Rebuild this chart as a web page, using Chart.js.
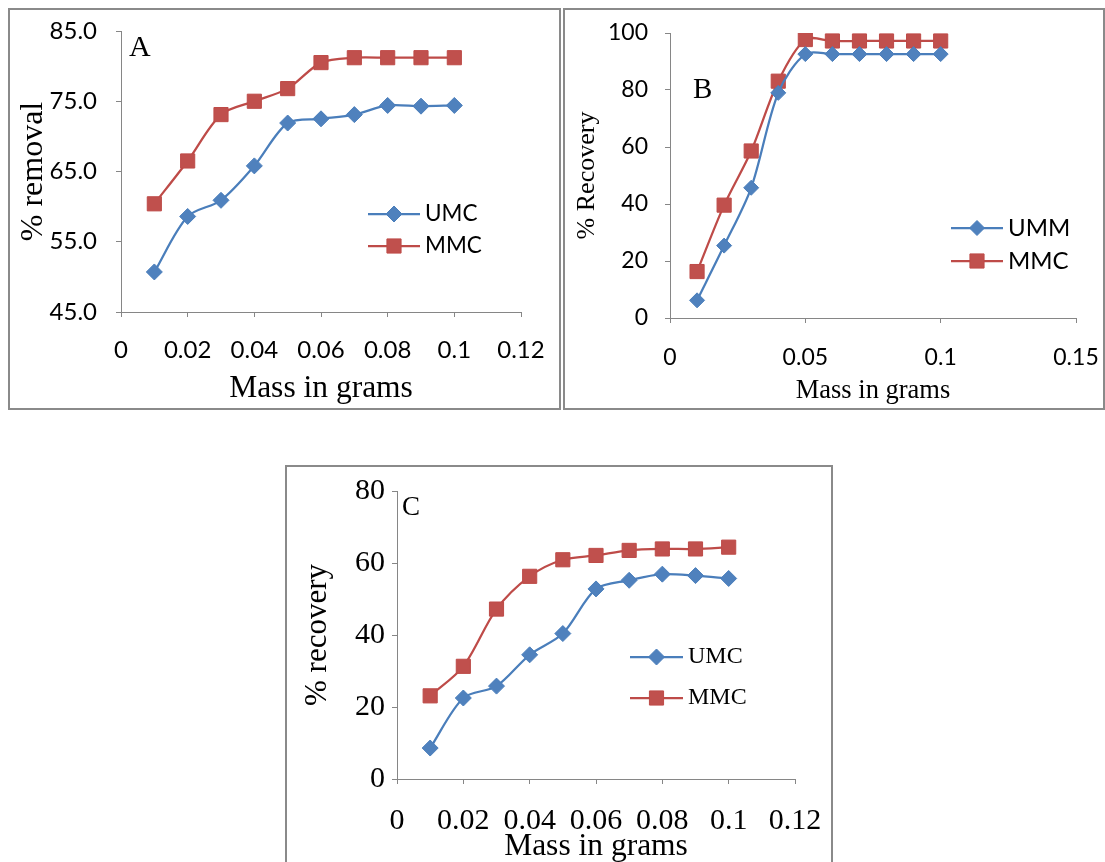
<!DOCTYPE html>
<html>
<head>
<meta charset="utf-8">
<script src="https://cdn.jsdelivr.net/npm/chart.js@4.4.1/dist/chart.umd.min.js"></script>
<style>
  body { margin: 0; background: #fff; width: 1105px; height: 862px; overflow: hidden; position: relative; }
  .frame { position: absolute; border: 2px solid #8a8a8a; box-sizing: border-box; background: #fff; }
  .frame canvas { position: absolute; left: 0; top: 0; }
</style>
</head>
<body>
<div class="frame" style="left:8px;top:8px;width:553px;height:402px"><canvas id="chartA" width="549" height="398"></canvas></div>
<div class="frame" style="left:563px;top:8px;width:542px;height:402px"><canvas id="chartB" width="538" height="398"></canvas></div>
<div class="frame" style="left:285px;top:465px;width:548px;height:402px"><canvas id="chartC" width="544" height="395"></canvas></div>
<script>
// ===============================
// Data
// ===============================
const massGrams = [0.01, 0.02, 0.03, 0.04, 0.05, 0.06, 0.07, 0.08, 0.09, 0.1];

// A - % removal
const umcRemovalA = [50.7, 58.6, 60.9, 65.8, 71.9, 72.5, 73.1, 74.4, 74.3, 74.4];
const mmcRemovalA = [60.4, 66.5, 73.1, 75.0, 76.8, 80.5, 81.2, 81.2, 81.2, 81.2];

// B - % Recovery
const ummRecoveryB = [6.2, 25.4, 45.7, 79.0, 92.6, 92.6, 92.6, 92.6, 92.6, 92.6];
const mmcRecoveryB = [16.3, 39.6, 58.6, 83.1, 97.7, 97.2, 97.2, 97.2, 97.2, 97.2];

// C - % recovery
const umcRecoveryC = [8.6, 22.5, 25.8, 34.5, 40.4, 52.8, 55.2, 56.9, 56.5, 55.7];
const mmcRecoveryC = [23.1, 31.3, 47.2, 56.3, 60.9, 62.1, 63.5, 63.9, 63.9, 64.4];

// Tick values
const xTicksAC = [0, 0.02, 0.04, 0.06, 0.08, 0.1, 0.12];
const xTicksB = [0, 0.05, 0.1, 0.15];
const yTicksA = [45, 55, 65, 75, 85];
const yTicksB = [0, 20, 40, 60, 80, 100];
const yTicksC = [0, 20, 40, 60, 80];

// ===============================
// Styles
// ===============================
const BLUE_LINE = "#4A7EBB";
const BLUE_FILL = "#4F81BD";
const RED_LINE = "#BE4B48";
const RED_FILL = "#C0504D";
const AXIS_GRAY = "#868686";
const SANS = "Lato, 'Open Sans', sans-serif";
const SERIF = "'Liberation Serif', 'DejaVu Serif', serif";

function toPoints(xs, ys) {
  return xs.map((x, i) => ({ x: x, y: ys[i] }));
}

function fmtX(v) {
  return String(Number(v.toFixed(2)));
}

// Marcador simples (losango / quadrado) para a legenda
function drawMarker(ctx, style, r, x, y) {
  ctx.beginPath();
  if (style === "rectRot") {
    ctx.moveTo(x, y - r);
    ctx.lineTo(x + r, y);
    ctx.lineTo(x, y + r);
    ctx.lineTo(x - r, y);
  } else {
    const h = r * Math.SQRT1_2;
    ctx.rect(x - h, y - h, 2 * h, 2 * h);
  }
  ctx.closePath();
  ctx.fill();
  ctx.stroke();
}

// Letra do painel + legenda dentro da área
const panelDecor = {
  id: "panelDecor",
  afterDraw(chart, args, opts) {
    const ctx = chart.ctx;
    ctx.save();
    ctx.fillStyle = "#000";
    ctx.font = opts.labelFont;
    ctx.textAlign = "left";
    ctx.textBaseline = "alphabetic";
    ctx.fillText(opts.label, opts.labelX, opts.labelY);

    chart.data.datasets.forEach((ds, i) => {
      const y = opts.legendY + i * opts.legendGap;
      ctx.strokeStyle = ds.borderColor;
      ctx.lineWidth = ds.borderWidth;
      ctx.beginPath();
      ctx.moveTo(opts.legendX, y);
      ctx.lineTo(opts.legendX + opts.lineLen, y);
      ctx.stroke();
      ctx.fillStyle = ds.pointBackgroundColor;
      ctx.strokeStyle = ds.pointBorderColor;
      ctx.lineWidth = 1;
      drawMarker(ctx, ds.pointStyle, ds.pointRadius, opts.legendX + opts.lineLen / 2, y);
      ctx.fillStyle = "#000";
      ctx.font = opts.legendFont;
      ctx.textBaseline = "middle";
      ctx.fillText(ds.label, opts.legendX + opts.lineLen + 5, y);
    });
    ctx.restore();
  }
};

function series(label, values, line, fill, style, radius) {
  return {
    label: label,
    data: toPoints(massGrams, values),
    borderColor: line,
    backgroundColor: fill,
    borderWidth: 2.25,
    pointStyle: style,
    pointRadius: radius,
    pointHoverRadius: radius,
    pointBackgroundColor: fill,
    pointBorderColor: line,
    pointBorderWidth: 1,
    tension: 0.3,
    fill: false
  };
}

// sem padding extra dos rótulos: a área do gráfico fica onde o layout manda
function clearPadding(s) {
  s.paddingTop = 0;
  s.paddingBottom = 0;
  s.paddingLeft = 0;
  s.paddingRight = 0;
}

function makeChart(id, p) {
  return new Chart(document.getElementById(id), {
    type: "line",
    data: { datasets: p.datasets },
    plugins: [panelDecor],
    options: {
      responsive: false,
      animation: false,
      layout: { padding: { left: 0, top: p.padTop, right: p.padRight, bottom: 0 } },
      plugins: {
        legend: { display: false },
        tooltip: { enabled: false },
        panelDecor: p.decor
      },
      scales: {
        x: {
          type: "linear",
          min: p.xTicks[0],
          max: p.xTicks[p.xTicks.length - 1],
          afterBuildTicks: s => { s.ticks = p.xTicks.map(v => ({ value: v })); },
          afterFit: s => { s.height = p.xHeight; clearPadding(s); },
          grid: { drawOnChartArea: false, drawTicks: true, tickLength: 5, color: AXIS_GRAY, lineWidth: 1 },
          border: { display: true, color: AXIS_GRAY, width: 1 },
          ticks: {
            color: "#000",
            font: p.xTickFont,
            padding: p.xTickPad,
            maxRotation: 0,
            autoSkip: false,
            callback: v => fmtX(v)
          },
          title: {
            display: true,
            text: "Mass in grams",
            color: "#000",
            font: p.xTitleFont,
            padding: { top: 0, bottom: p.xTitlePad }
          }
        },
        y: {
          type: "linear",
          min: p.yTicks[0],
          max: p.yTicks[p.yTicks.length - 1],
          afterBuildTicks: s => { s.ticks = p.yTicks.map(v => ({ value: v })); },
          afterFit: s => { s.width = p.yWidth; clearPadding(s); },
          grid: { drawOnChartArea: false, drawTicks: true, tickLength: 5, color: AXIS_GRAY, lineWidth: 1 },
          border: { display: true, color: AXIS_GRAY, width: 1 },
          ticks: {
            color: "#000",
            font: p.yTickFont,
            padding: p.yTickPad,
            autoSkip: false,
            callback: p.yFmt
          },
          title: {
            display: true,
            text: p.yTitle,
            color: "#000",
            font: p.yTitleFont,
            padding: { top: p.yTitlePad, bottom: 0 }
          }
        }
      }
    }
  });
}

// ===============================
// Painel A
// ===============================
makeChart("chartA", {
  datasets: [
    series("UMC", umcRemovalA, BLUE_LINE, BLUE_FILL, "rectRot", 8),
    series("MMC", mmcRemovalA, RED_LINE, RED_FILL, "rect", 10)
  ],
  xTicks: xTicksAC, yTicks: yTicksA,
  padTop: 21, padRight: 38, xHeight: 96, yWidth: 111,
  xTickFont: { family: SANS, size: 24 }, xTickPad: 19,
  yTickFont: { family: SANS, size: 24 }, yTickPad: 19,
  yFmt: v => v.toFixed(1),
  xTitleFont: { family: SERIF, size: 31.5, lineHeight: 1.2 }, xTitlePad: 0,
  yTitle: "% removal",
  yTitleFont: { family: SERIF, size: 32, lineHeight: 1.2 }, yTitlePad: 4,
  decor: {
    label: "A", labelFont: "30px " + SERIF, labelX: 119, labelY: 46,
    legendX: 358, legendY: 204, legendGap: 32, lineLen: 52,
    legendFont: "22.5px " + SANS
  }
});

// ===============================
// Painel B
// ===============================
makeChart("chartB", {
  datasets: [
    series("UMM", ummRecoveryB, BLUE_LINE, BLUE_FILL, "rectRot", 7.5),
    series("MMC", mmcRecoveryB, RED_LINE, RED_FILL, "rect", 10)
  ],
  xTicks: xTicksB, yTicks: yTicksB,
  padTop: 23, padRight: 27, xHeight: 90, yWidth: 105,
  xTickFont: { family: SANS, size: 23 }, xTickPad: 21,
  yTickFont: { family: SANS, size: 23 }, yTickPad: 17,
  yFmt: v => String(v),
  xTitleFont: { family: SERIF, size: 26.5, lineHeight: 1.2 }, xTitlePad: 1,
  yTitle: "% Recovery",
  yTitleFont: { family: SERIF, size: 26, lineHeight: 1.2 }, yTitlePad: 7,
  decor: {
    label: "B", labelFont: "29px " + SERIF, labelX: 128, labelY: 88,
    legendX: 386, legendY: 218, legendGap: 33, lineLen: 52,
    legendFont: "24px " + SANS
  }
});

// ===============================
// Painel C
// ===============================
makeChart("chartC", {
  datasets: [
    series("UMC", umcRecoveryC, BLUE_LINE, BLUE_FILL, "rectRot", 8),
    series("MMC", mmcRecoveryC, RED_LINE, RED_FILL, "rect", 10)
  ],
  xTicks: xTicksAC, yTicks: yTicksC,
  padTop: 24, padRight: 36, xHeight: 83, yWidth: 110,
  xTickFont: { family: SERIF, size: 30 }, xTickPad: 19,
  yTickFont: { family: SERIF, size: 30 }, yTickPad: 7,
  yFmt: v => String(v),
  xTitleFont: { family: SERIF, size: 31.5, lineHeight: 1.0 }, xTitlePad: 0,
  yTitle: "% recovery",
  yTitleFont: { family: SERIF, size: 31, lineHeight: 1.2 }, yTitlePad: 12,
  decor: {
    label: "C", labelFont: "27px " + SERIF, labelX: 115, labelY: 48,
    legendX: 343, legendY: 190, legendGap: 41, lineLen: 53,
    legendFont: "24px " + SERIF
  }
});
</script>
</body>
</html>
